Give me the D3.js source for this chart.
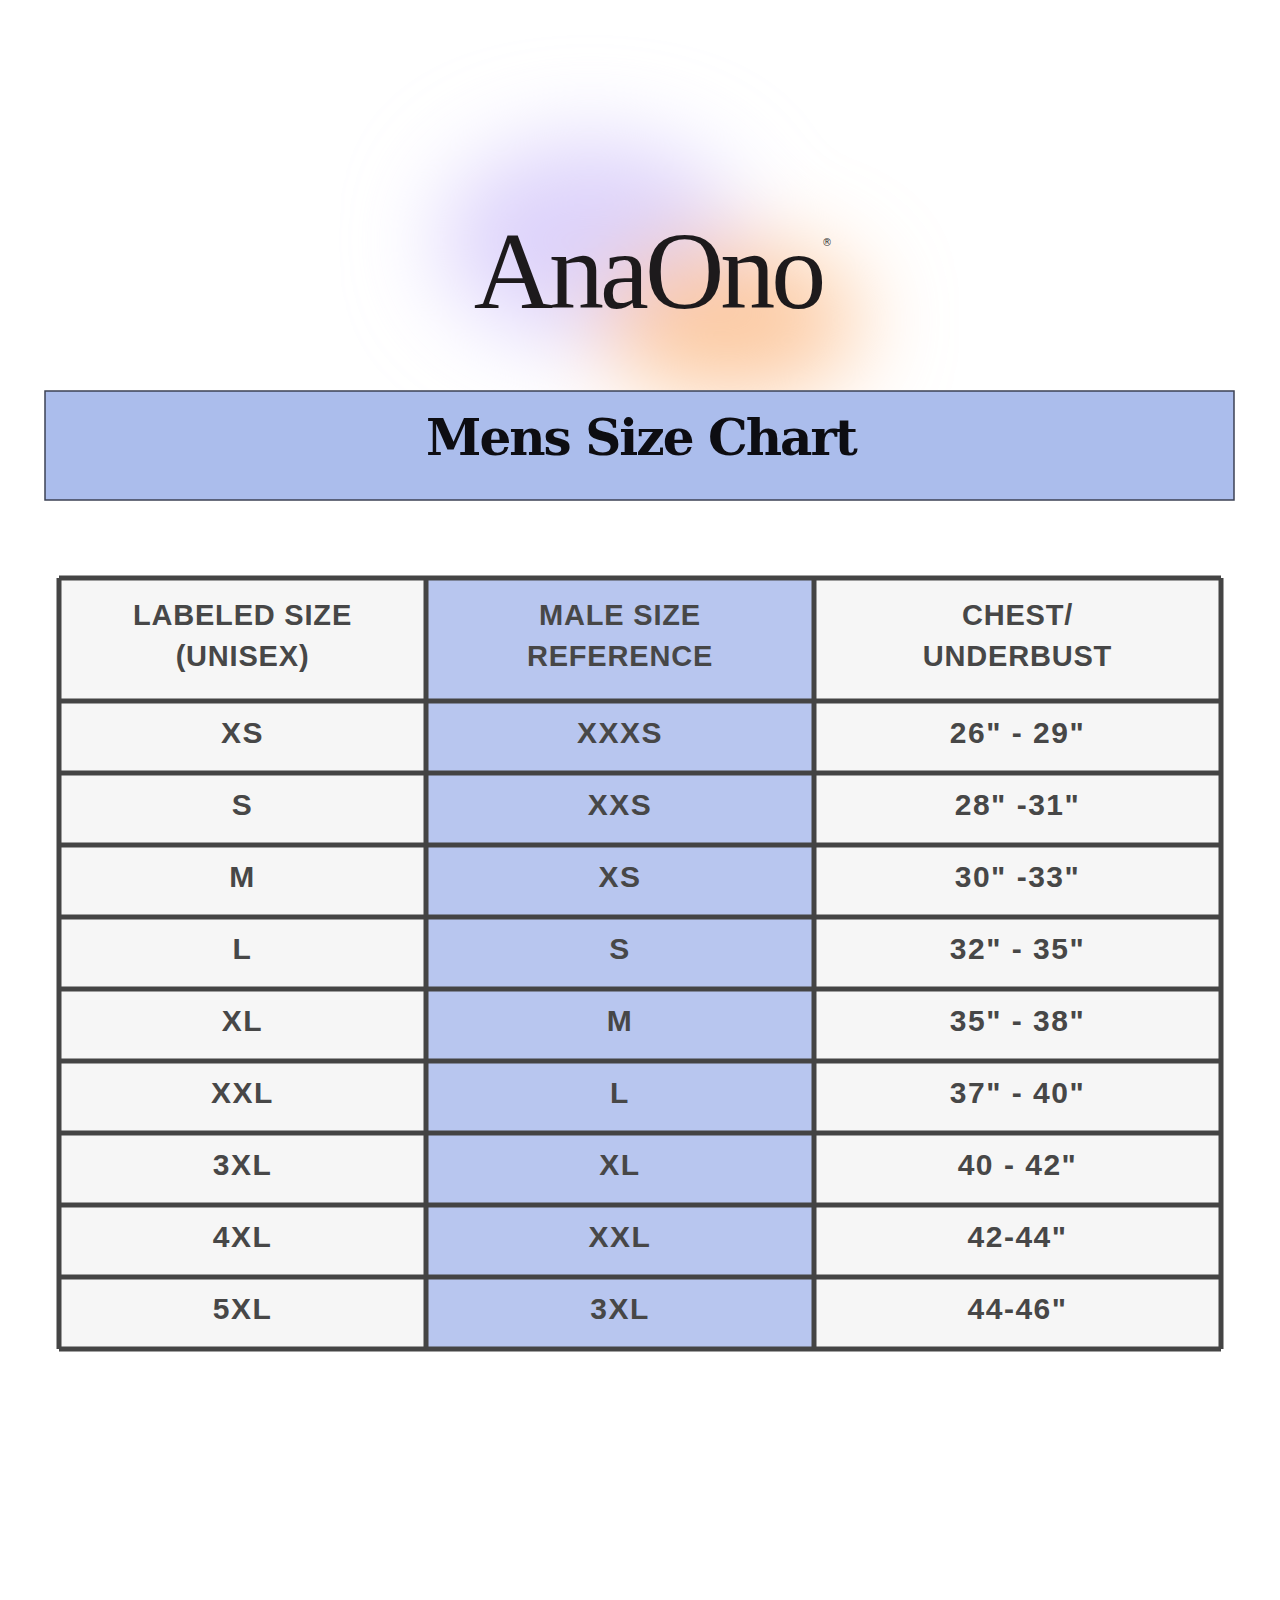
<!DOCTYPE html>
<html><head><meta charset="utf-8">
<script src="https://cdn.jsdelivr.net/npm/d3@7"></script>
<style>body{margin:0;background:#fff}</style>
</head><body>
<svg id="c" width="1280" height="1600"></svg>
<script>
const brand = "AnaOno";
const title = "Mens Size Chart";
const headers = [["LABELED SIZE","(UNISEX)"],["MALE SIZE","REFERENCE"],["CHEST/","UNDERBUST"]];
const labeledSize = ["XS","S","M","L","XL","XXL","3XL","4XL","5XL"];
const maleSize = ["XXXS","XXS","XS","S","M","L","XL","XXL","3XL"];
const chest = ["26\" - 29\"","28\" -31\"","30\" -33\"","32\" - 35\"","35\" - 38\"","37\" - 40\"","40 - 42\"","42-44\"","44-46\""];

const svg = d3.select("#c");
const defs = svg.append("defs");
const blur = defs.append("filter").attr("id","bl").attr("filterUnits","userSpaceOnUse")
  .attr("x",200).attr("y",0).attr("width",880).attr("height",390);
blur.append("feGaussianBlur").attr("stdDeviation",45);
const blobs = svg.append("g").attr("filter","url(#bl)");
blobs.append("ellipse").attr("cx",590).attr("cy",240).attr("rx",150).attr("ry",100).attr("fill","#ddd3fb");
blobs.append("ellipse").attr("cx",730).attr("cy",320).attr("rx",130).attr("ry",75).attr("fill","#fcc9a0");

svg.append("text").attr("x",648).attr("y",308).attr("text-anchor","middle")
  .attr("font-family","'Liberation Serif','DejaVu Serif',serif").attr("font-size",110)
  .attr("letter-spacing",-4).attr("fill","#1d1a1c").text(brand);
svg.append("text").attr("x",822).attr("y",246).attr("font-size",10).attr("font-family","DejaVu Sans").attr("fill","#333").text("®");

svg.append("rect").attr("x",45).attr("y",391).attr("width",1189).attr("height",109)
  .attr("fill","#abbdec").attr("stroke","#3c4254").attr("stroke-width",1.5);
svg.append("text").attr("x",641).attr("y",455).attr("text-anchor","middle")
  .attr("font-family","'DejaVu Serif',serif").attr("font-weight","bold").attr("font-size",50)
  .attr("letter-spacing",-2).attr("fill","#0d0d12").text(title);

const X0=59, X3=1221, Y0=578, Y1=701, Y9=1349;
const cols = d3.scaleOrdinal().domain([0,1,2]).range([X0,426,814]);
const colEnd = [426,814,X3];
const rowY = d3.scaleLinear().domain([0,9]).range([Y1,Y9]);
const rows = labeledSize.map((d,i)=>[d,maleSize[i],chest[i]]);
const font = "'Liberation Sans',Arial,sans-serif";
const tg = svg.append("g");
for(let c=0;c<3;c++){
  tg.append("rect").attr("x",cols(c)).attr("y",Y0).attr("width",colEnd[c]-cols(c)).attr("height",Y9-Y0)
    .attr("fill",c===1?"#b8c6ef":"#f6f6f6");
}
headers.forEach((h,c)=>{
  const cx=(cols(c)+colEnd[c])/2;
  h.forEach((t,k)=>tg.append("text").attr("x",cx).attr("y",625+k*41).attr("text-anchor","middle")
    .attr("font-family",font).attr("font-weight","bold").attr("font-size",29).attr("letter-spacing",0.8).attr("fill","#474747").text(t));
});
rows.forEach((r,i)=>{
  r.forEach((t,c)=>{
    const cx=(cols(c)+colEnd[c])/2;
    tg.append("text").attr("x",cx).attr("y",(rowY(i)+rowY(i+1))/2+6).attr("text-anchor","middle")
      .attr("font-family",font).attr("font-weight","bold").attr("font-size",30).attr("letter-spacing",1.5).attr("fill","#474747").text(t);
  });
});
const lc="#444"; const lw=5;
for(let i=0;i<=9;i++) tg.append("line").attr("x1",X0).attr("x2",X3).attr("y1",rowY(i)).attr("y2",rowY(i)).attr("stroke",lc).attr("stroke-width",lw);
tg.append("line").attr("x1",X0).attr("x2",X3).attr("y1",Y0).attr("y2",Y0).attr("stroke",lc).attr("stroke-width",lw);
[X0,426,814,X3].forEach(x=>tg.append("line").attr("x1",x).attr("x2",x).attr("y1",Y0).attr("y2",Y9).attr("stroke",lc).attr("stroke-width",lw));
</script>
</body></html>
